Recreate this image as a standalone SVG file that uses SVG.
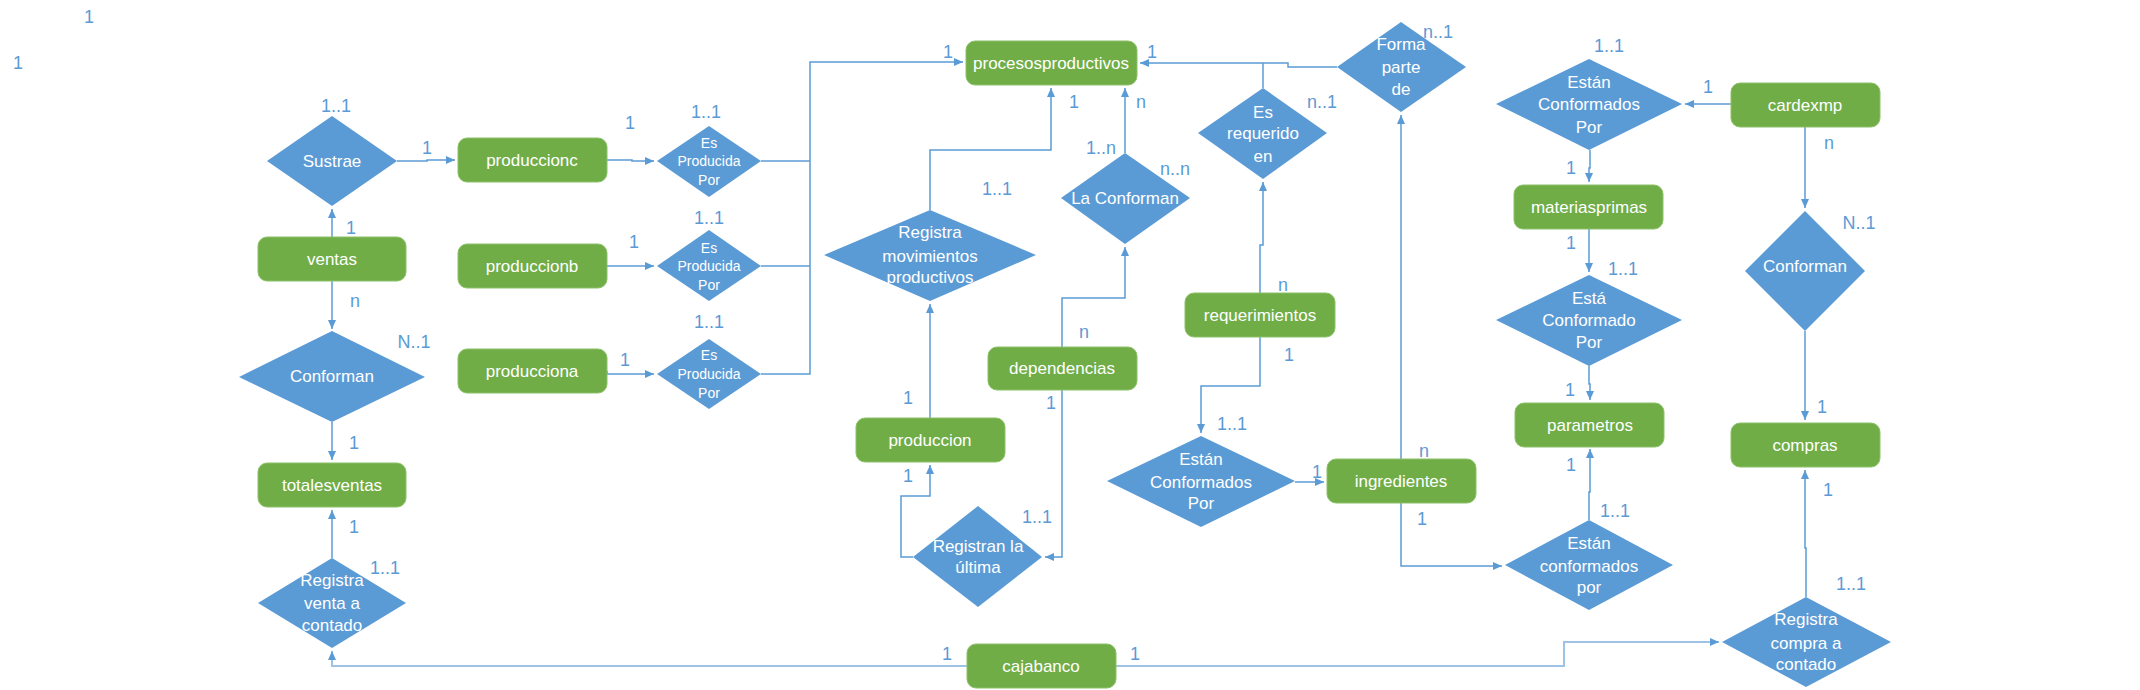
<svg xmlns="http://www.w3.org/2000/svg" width="2140" height="690" viewBox="0 0 2140 690">
<style>
.box{fill:#70AD47;stroke:#8CC168;stroke-width:1}
.dia{fill:#5B9BD5}
.nt{font-family:"Liberation Sans",Arial,sans-serif;font-size:17px;fill:#FFFFFF;text-anchor:middle}
.st{font-family:"Liberation Sans",Arial,sans-serif;font-size:14px;fill:#FFFFFF;text-anchor:middle}
.lb{font-family:"Liberation Sans",Arial,sans-serif;font-size:18px;fill:#5B9BD5;text-anchor:middle}
.cn{fill:none;stroke:#5B9BD5;stroke-width:1.5}
.cl{fill:none;stroke:#9DC3E6;stroke-width:2}
</style>
<defs>
<marker id="ah" markerUnits="userSpaceOnUse" markerWidth="10" markerHeight="10" refX="9" refY="4" orient="auto">
<path d="M0,0 L9,4 L0,8 z" fill="#5B9BD5"/>
</marker>
</defs>
<rect width="2140" height="690" fill="#FFFFFF"/>
<g id="connectors">
<path class="cn" d="M397,161 H427 V160 H455" marker-end="url(#ah)"/>
<path class="cn" d="M607,160 H632 V161 H654" marker-end="url(#ah)"/>
<path class="cn" d="M607,266 H654" marker-end="url(#ah)"/>
<path class="cn" d="M607,371 V374 H654" marker-end="url(#ah)"/>
<path class="cn" d="M761,374 H810 V62 H963" marker-end="url(#ah)"/>
<path class="cn" d="M761,161 H810"/>
<path class="cn" d="M761,266 H810"/>
<path class="cn" d="M332,237 V209" marker-end="url(#ah)"/>
<path class="cn" d="M332,281 V329" marker-end="url(#ah)"/>
<path class="cn" d="M332,422 V460" marker-end="url(#ah)"/>
<path class="cn" d="M332,558 V510" marker-end="url(#ah)"/>
<path class="cl" d="M967,666 H332 V651" marker-end="url(#ah)"/>
<path class="cl" d="M1116,666 H1564 V642 H1719" marker-end="url(#ah)"/>
<path class="cn" d="M1806,597 V548 H1805 V470" marker-end="url(#ah)"/>
<path class="cn" d="M1805,331 V420" marker-end="url(#ah)"/>
<path class="cn" d="M1805,127 V208" marker-end="url(#ah)"/>
<path class="cn" d="M1731,104 H1685" marker-end="url(#ah)"/>
<path class="cn" d="M1590,150 V168 H1589 V182" marker-end="url(#ah)"/>
<path class="cn" d="M1589,229 V272" marker-end="url(#ah)"/>
<path class="cn" d="M1589,366 V384 H1590 V400" marker-end="url(#ah)"/>
<path class="cn" d="M1589,520 V492 H1590 V449" marker-end="url(#ah)"/>
<path class="cn" d="M1401,503 V566 H1502" marker-end="url(#ah)"/>
<path class="cn" d="M1401,459 V115" marker-end="url(#ah)"/>
<path class="cn" d="M1337,67 H1288 V63 H1140" marker-end="url(#ah)"/>
<path class="cn" d="M1263,88 V63"/>
<path class="cn" d="M1260,293 V245 H1263 V182" marker-end="url(#ah)"/>
<path class="cn" d="M1260,337 V386 H1201 V433" marker-end="url(#ah)"/>
<path class="cn" d="M1295,482 H1324" marker-end="url(#ah)"/>
<path class="cn" d="M1125,153 V88" marker-end="url(#ah)"/>
<path class="cn" d="M1062,347 V298 H1125 V247" marker-end="url(#ah)"/>
<path class="cn" d="M1062,390 V557 H1045" marker-end="url(#ah)"/>
<path class="cn" d="M913,557 H901 V496 H930 V465" marker-end="url(#ah)"/>
<path class="cn" d="M930,418 V304" marker-end="url(#ah)"/>
<path class="cn" d="M930,210 V150 H1051 V88" marker-end="url(#ah)"/>
</g>
<g id="n-produccionc"><rect class="box" x="458" y="138" width="149" height="44" rx="9"/><text class="nt" x="532" y="166">produccionc</text></g>
<g id="n-produccionb"><rect class="box" x="458" y="244" width="149" height="44" rx="9"/><text class="nt" x="532" y="272">produccionb</text></g>
<g id="n-producciona"><rect class="box" x="458" y="349" width="149" height="44" rx="9"/><text class="nt" x="532" y="377">producciona</text></g>
<g id="n-ventas"><rect class="box" x="258" y="237" width="148" height="44" rx="9"/><text class="nt" x="332" y="265">ventas</text></g>
<g id="n-totalesventas"><rect class="box" x="258" y="463" width="148" height="44" rx="9"/><text class="nt" x="332" y="491">totalesventas</text></g>
<g id="n-procesosproductivos"><rect class="box" x="966" y="41" width="171" height="44" rx="9"/><text class="nt" x="1051" y="69">procesosproductivos</text></g>
<g id="n-produccion"><rect class="box" x="856" y="418" width="149" height="44" rx="9"/><text class="nt" x="930" y="446">produccion</text></g>
<g id="n-dependencias"><rect class="box" x="988" y="347" width="149" height="43" rx="9"/><text class="nt" x="1062" y="374">dependencias</text></g>
<g id="n-requerimientos"><rect class="box" x="1185" y="293" width="150" height="44" rx="9"/><text class="nt" x="1260" y="321">requerimientos</text></g>
<g id="n-ingredientes"><rect class="box" x="1327" y="459" width="149" height="44" rx="9"/><text class="nt" x="1401" y="487">ingredientes</text></g>
<g id="n-materiasprimas"><rect class="box" x="1514" y="185" width="149" height="44" rx="9"/><text class="nt" x="1589" y="213">materiasprimas</text></g>
<g id="n-parametros"><rect class="box" x="1515" y="403" width="149" height="44" rx="9"/><text class="nt" x="1590" y="431">parametros</text></g>
<g id="n-cardexmp"><rect class="box" x="1731" y="83" width="149" height="44" rx="9"/><text class="nt" x="1805" y="111">cardexmp</text></g>
<g id="n-compras"><rect class="box" x="1731" y="423" width="149" height="44" rx="9"/><text class="nt" x="1805" y="451">compras</text></g>
<g id="n-cajabanco"><rect class="box" x="967" y="644" width="149" height="44" rx="9"/><text class="nt" x="1041" y="672">cajabanco</text></g>
<g id="r-sustrae"><polygon class="dia" points="267,161 332,116 397,161 332,206"/><text class="nt" x="332" y="167">Sustrae</text></g>
<g id="r-esproducida-c"><polygon class="dia" points="657,161 709,126 761,161 709,197"/><text class="st" x="709" y="148">Es</text><text class="st" x="709" y="166">Producida</text><text class="st" x="709" y="185">Por</text></g>
<g id="r-esproducida-b"><polygon class="dia" points="657,266 709,230 761,266 709,301"/><text class="st" x="709" y="253">Es</text><text class="st" x="709" y="271">Producida</text><text class="st" x="709" y="290">Por</text></g>
<g id="r-esproducida-a"><polygon class="dia" points="657,374 709,339 761,374 709,409"/><text class="st" x="709" y="360">Es</text><text class="st" x="709" y="379">Producida</text><text class="st" x="709" y="398">Por</text></g>
<g id="r-conforman-ventas"><polygon class="dia" points="239,377 332,331 425,377 332,422"/><text class="nt" x="332" y="382">Conforman</text></g>
<g id="r-registra-venta"><polygon class="dia" points="258,603 332,558 406,603 332,648"/><text class="nt" x="332" y="586">Registra</text><text class="nt" x="332" y="609">venta a</text><text class="nt" x="332" y="631">contado</text></g>
<g id="r-registra-movimientos"><polygon class="dia" points="824,255 930,210 1036,255 930,301"/><text class="nt" x="930" y="238">Registra</text><text class="nt" x="930" y="262">movimientos</text><text class="nt" x="930" y="283">productivos</text></g>
<g id="r-la-conforman"><polygon class="dia" points="1061,198 1125,153 1190,198 1125,244"/><text class="nt" x="1125" y="204">La Conforman</text></g>
<g id="r-registran-ultima"><polygon class="dia" points="913,557 978,506 1042,557 978,607"/><text class="nt" x="978" y="552">Registran la</text><text class="nt" x="978" y="573">última</text></g>
<g id="r-es-requerido"><polygon class="dia" points="1198,133 1263,88 1327,133 1263,179"/><text class="nt" x="1263" y="118">Es</text><text class="nt" x="1263" y="139">requerido</text><text class="nt" x="1263" y="162">en</text></g>
<g id="r-forma-parte"><polygon class="dia" points="1337,67 1401,22 1466,67 1401,112"/><text class="nt" x="1401" y="50">Forma</text><text class="nt" x="1401" y="73">parte</text><text class="nt" x="1401" y="95">de</text></g>
<g id="r-estan-conformados-ing"><polygon class="dia" points="1107,481 1201,436 1295,481 1201,527"/><text class="nt" x="1201" y="465">Están</text><text class="nt" x="1201" y="488">Conformados</text><text class="nt" x="1201" y="509">Por</text></g>
<g id="r-estan-conformados-mp"><polygon class="dia" points="1496,104 1589,59 1682,104 1589,150"/><text class="nt" x="1589" y="88">Están</text><text class="nt" x="1589" y="110">Conformados</text><text class="nt" x="1589" y="133">Por</text></g>
<g id="r-esta-conformado"><polygon class="dia" points="1496,320 1589,275 1682,320 1589,366"/><text class="nt" x="1589" y="304">Está</text><text class="nt" x="1589" y="326">Conformado</text><text class="nt" x="1589" y="348">Por</text></g>
<g id="r-estan-conformados-por"><polygon class="dia" points="1505,565 1589,520 1673,565 1589,610"/><text class="nt" x="1589" y="549">Están</text><text class="nt" x="1589" y="572">conformados</text><text class="nt" x="1589" y="593">por</text></g>
<g id="r-conforman-compras"><polygon class="dia" points="1745,271 1805,211 1865,271 1805,331"/><text class="nt" x="1805" y="272">Conforman</text></g>
<g id="r-registra-compra"><polygon class="dia" points="1722,642 1806,597 1891,642 1806,687"/><text class="nt" x="1806" y="625">Registra</text><text class="nt" x="1806" y="649">compra a</text><text class="nt" x="1806" y="670">contado</text></g>
<g id="labels">
<text class="lb" x="89" y="23">1</text>
<text class="lb" x="18" y="69">1</text>
<text class="lb" x="336" y="112">1..1</text>
<text class="lb" x="427" y="154">1</text>
<text class="lb" x="630" y="129">1</text>
<text class="lb" x="706" y="118">1..1</text>
<text class="lb" x="351" y="234">1</text>
<text class="lb" x="634" y="248">1</text>
<text class="lb" x="709" y="224">1..1</text>
<text class="lb" x="355" y="307">n</text>
<text class="lb" x="414" y="348">N..1</text>
<text class="lb" x="625" y="366">1</text>
<text class="lb" x="709" y="328">1..1</text>
<text class="lb" x="354" y="449">1</text>
<text class="lb" x="354" y="533">1</text>
<text class="lb" x="385" y="574">1..1</text>
<text class="lb" x="948" y="58">1</text>
<text class="lb" x="1152" y="58">1</text>
<text class="lb" x="1074" y="108">1</text>
<text class="lb" x="1141" y="108">n</text>
<text class="lb" x="1101" y="154">1..n</text>
<text class="lb" x="1175" y="175">n..n</text>
<text class="lb" x="997" y="195">1..1</text>
<text class="lb" x="1322" y="108">n..1</text>
<text class="lb" x="1283" y="291">n</text>
<text class="lb" x="1289" y="361">1</text>
<text class="lb" x="1232" y="430">1..1</text>
<text class="lb" x="1317" y="478">1</text>
<text class="lb" x="1084" y="338">n</text>
<text class="lb" x="1051" y="409">1</text>
<text class="lb" x="1037" y="523">1..1</text>
<text class="lb" x="908" y="404">1</text>
<text class="lb" x="908" y="482">1</text>
<text class="lb" x="947" y="660">1</text>
<text class="lb" x="1135" y="660">1</text>
<text class="lb" x="1438" y="38">n..1</text>
<text class="lb" x="1609" y="52">1..1</text>
<text class="lb" x="1708" y="93">1</text>
<text class="lb" x="1571" y="174">1</text>
<text class="lb" x="1571" y="249">1</text>
<text class="lb" x="1623" y="275">1..1</text>
<text class="lb" x="1829" y="149">n</text>
<text class="lb" x="1859" y="229">N..1</text>
<text class="lb" x="1570" y="396">1</text>
<text class="lb" x="1571" y="471">1</text>
<text class="lb" x="1615" y="517">1..1</text>
<text class="lb" x="1424" y="457">n</text>
<text class="lb" x="1422" y="525">1</text>
<text class="lb" x="1822" y="413">1</text>
<text class="lb" x="1828" y="496">1</text>
<text class="lb" x="1851" y="590">1..1</text>
</g>
</svg>
